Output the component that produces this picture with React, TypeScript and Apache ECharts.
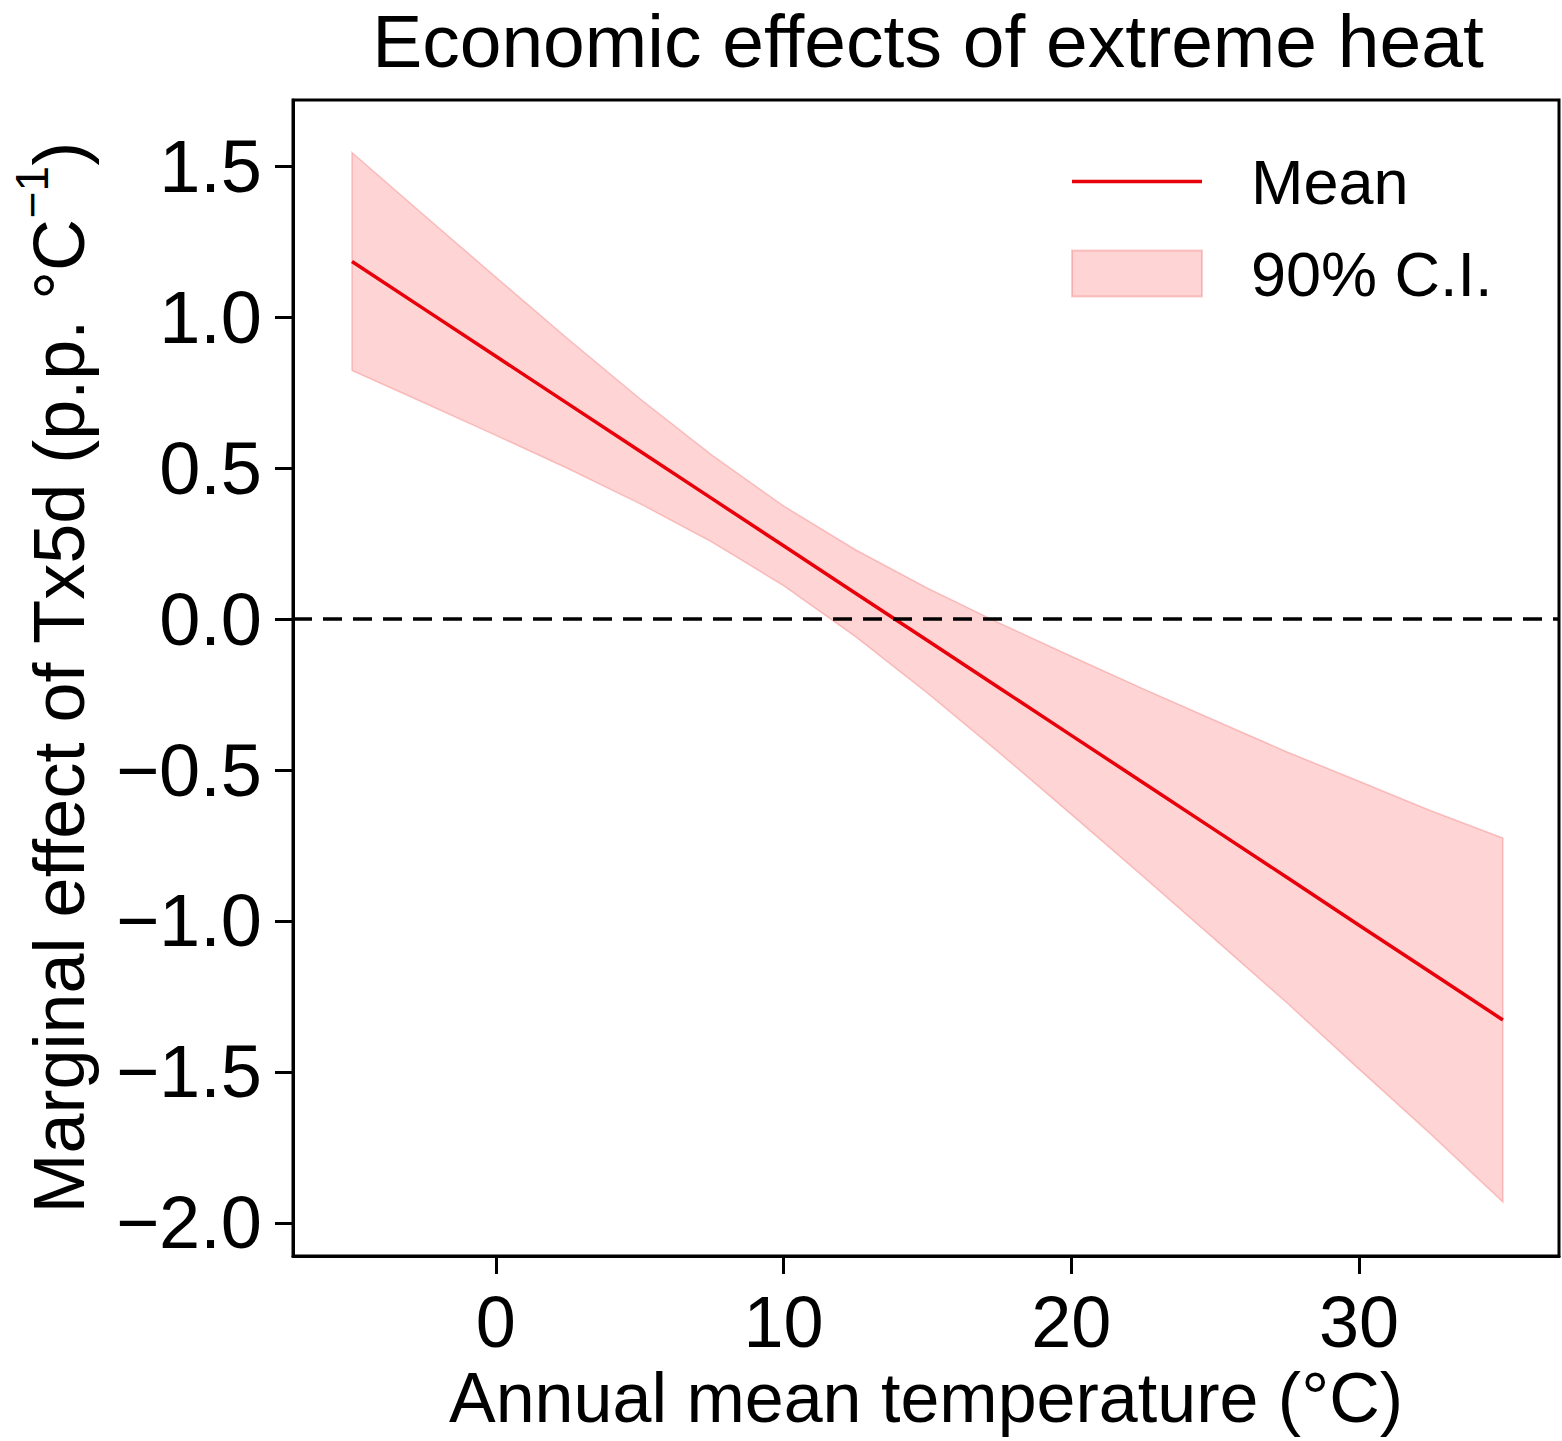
import React, { useEffect, useRef } from 'react';
import * as echarts from 'echarts';

const temps = [-5, -2.5, 0, 2.5, 5, 7.5, 10, 12.5, 15, 17.5, 20, 22.5, 25, 27.5, 30, 32.5, 35];
const meanEffect = [1.185, 1.028, 0.871, 0.714, 0.557, 0.4, 0.243, 0.086, -0.071, -0.228, -0.385, -0.542, -0.699, -0.856, -1.014, -1.171, -1.328];
const ciUpper = [1.546, 1.339, 1.133, 0.929, 0.731, 0.544, 0.375, 0.23, 0.103, -0.013, -0.123, -0.231, -0.336, -0.44, -0.537, -0.635, -0.725];
const ciLower = [0.824, 0.717, 0.609, 0.499, 0.383, 0.256, 0.111, -0.058, -0.245, -0.443, -0.647, -0.853, -1.062, -1.272, -1.491, -1.707, -1.931];
const xTicks = [0, 10, 20, 30];
const yTicks = [-2, -1.5, -1, -0.5, 0, 0.5, 1, 1.5];

const FONT = '"Liberation Sans", Arial, Helvetica, sans-serif';
const RED = '#e8000b';
const BAND_FILL = 'rgba(255, 40, 40, 0.2)';
const BAND_EDGE = 'rgba(230, 60, 60, 0.25)';

export default function App() {
  const ref = useRef<HTMLDivElement>(null);
  useEffect(() => {
    if (!ref.current) return;
    const chart = echarts.init(ref.current, null, { renderer: 'svg' });
    const option: any = {
      animation: false,
      backgroundColor: '#fff',
      textStyle: { fontFamily: FONT },
      title: {
        text: 'Economic effects of extreme heat',
        left: 928,
        top: 2,
        padding: 0,
        textAlign: 'center',
        textStyle: { fontSize: 75, fontWeight: 'normal', color: '#000', fontFamily: FONT, lineHeight: 78 },
      },
      grid: {
        left: 293,
        top: 100,
        right: 3,
        bottom: 185,
        show: true,
        borderColor: '#000',
        borderWidth: 3,
        backgroundColor: 'transparent',
      },
      legend: {
        orient: 'vertical',
        left: 1066,
        top: 145,
        itemWidth: 130,
        itemHeight: 46,
        itemGap: 29,
        textStyle: { fontSize: 63, color: '#000', fontFamily: FONT, padding: [0, 0, 0, 44] },
        data: [
          { name: 'Mean', icon: 'path://M0 0 H130 V3.5 H0 Z', itemStyle: { color: RED } },
          { name: '90% C.I.', icon: 'rect' },
        ],
      },
      xAxis: {
        type: 'value',
        min: -7.05,
        max: 36.95,
        axisLine: { show: true, onZero: false, lineStyle: { color: '#000', width: 3 } },
        axisTick: { show: true, customValues: xTicks, length: 18, lineStyle: { color: '#000', width: 3 } },
        axisLabel: { customValues: xTicks, fontSize: 72, color: '#000', fontFamily: FONT, margin: 30 },
        splitLine: { show: false },
        name: 'Annual mean temperature (°C)',
        nameLocation: 'middle',
        nameGap: 96,
        nameTextStyle: { fontSize: 70, color: '#000', fontFamily: FONT },
      },
      yAxis: {
        type: 'value',
        min: -2.11,
        max: 1.72,
        axisLine: { show: true, onZero: false, lineStyle: { color: '#000', width: 3 } },
        axisTick: { show: true, customValues: yTicks, length: 18, lineStyle: { color: '#000', width: 3 } },
        axisLabel: {
          customValues: yTicks,
          fontSize: 74,
          color: '#000',
          fontFamily: FONT,
          margin: 31,
          formatter: (v: number) => v.toFixed(1).replace('-', '\u2212'),
        },
        splitLine: { show: false },
        name: '{a|Marginal effect of Tx5d (p.p. °C}{s|\u22121}{a|)}',
        nameLocation: 'middle',
        nameGap: 198,
        nameRotate: 90,
        nameTextStyle: {
          color: '#000',
          fontFamily: FONT,
          rich: {
            a: { fontSize: 72, fontFamily: FONT, color: '#000', lineHeight: 86, verticalAlign: 'bottom' },
            s: { fontSize: 46, fontFamily: FONT, color: '#000', lineHeight: 86, verticalAlign: 'top' },
          },
        },
      },
      series: [
        {
          type: 'custom',
          name: '90% C.I.',
          z: 1,
          clip: true,
          itemStyle: { color: BAND_FILL, borderColor: BAND_EDGE, borderWidth: 1 },
          data: temps.map((t, i) => [t, ciLower[i], ciUpper[i]]),
          encode: { x: 0, y: [1, 2] },
          renderItem: (params: any, api: any) => {
            if (params.dataIndex !== 0) return null;
            const pts: number[][] = [];
            for (let i = 0; i < temps.length; i++) pts.push(api.coord([temps[i], ciUpper[i]]));
            for (let i = temps.length - 1; i >= 0; i--) pts.push(api.coord([temps[i], ciLower[i]]));
            return {
              type: 'polygon',
              shape: { points: pts, smooth: 0 },
              style: { fill: BAND_FILL, stroke: BAND_EDGE, lineWidth: 1.5 },
            };
          },
        },
        {
          type: 'line',
          name: 'Mean',
          z: 3,
          symbol: 'none',
          showSymbol: false,
          data: temps.map((t, i) => [t, meanEffect[i]]),
          lineStyle: { color: RED, width: 3.5 },
          itemStyle: { color: RED },
          markLine: {
            silent: true,
            symbol: ['none', 'none'],
            label: { show: false },
            lineStyle: { color: '#000', type: [19, 11], width: 3.5 },
            data: [{ yAxis: 0 }],
          },
        },
      ],
    };
    chart.setOption(option);
    return () => chart.dispose();
  }, []);
  return (
    <div
      ref={ref}
      style={{ position: 'fixed', left: 0, top: 0, width: 1562, height: 1441, background: '#fff' }}
    />
  );
}
